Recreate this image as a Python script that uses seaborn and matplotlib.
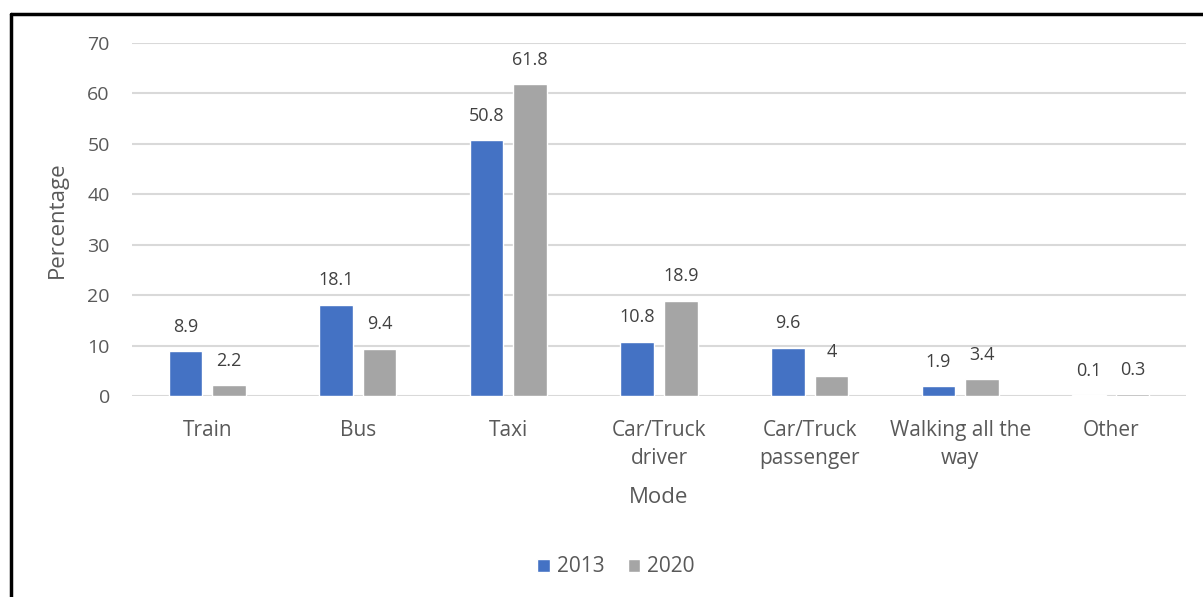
import matplotlib
matplotlib.use("Agg")
import matplotlib.pyplot as plt
from matplotlib.lines import Line2D
import seaborn as sns
import pandas as pd

modes = ["Train", "Bus", "Taxi", "Car/Truck\ndriver", "Car/Truck\npassenger",
         "Walking all the\nway", "Other"]
years = ["2013", "2020"]
pct_2013 = [8.9, 18.1, 50.8, 10.8, 9.6, 1.9, 0.1]
pct_2020 = [2.2, 9.4, 61.8, 18.9, 4, 3.4, 0.3]
label_2013 = ["8.9", "18.1", "50.8", "10.8", "9.6", "1.9", "0.1"]
label_2020 = ["2.2", "9.4", "61.8", "18.9", "4", "3.4", "0.3"]
y_ticks = [0, 10, 20, 30, 40, 50, 60, 70]

df = pd.DataFrame({
    "Mode": modes * 2,
    "Year": [years[0]] * len(modes) + [years[1]] * len(modes),
    "Percentage": pct_2013 + pct_2020,
})

sns.set_theme(style="white")
plt.rcParams["font.family"] = ["Open Sans", "DejaVu Sans"]
text_col = "#595959"

W, H = 1203, 597
fig = plt.figure(figsize=(W / 100, H / 100), dpi=100)
ax = fig.add_axes([132 / W, 1 - 396 / H, (1186 - 132) / W, (396 - 43) / H])

palette = {"2013": "#4472C4", "2020": "#A5A5A5"}
sns.barplot(data=df, x="Mode", y="Percentage", hue="Year", order=modes,
            hue_order=years, palette=palette, width=0.578, gap=0.23,
            saturation=1, ax=ax, legend=True, zorder=3)

labels = {"2013": label_2013, "2020": label_2020}
for cont, yr in zip(ax.containers, years):
    ax.bar_label(cont, labels=labels[yr], padding=11, fontsize=13, color="#404040")

ax.set_xlim(-0.5, len(modes) - 0.5)
ax.set_ylim(0, 70)
ax.set_yticks(y_ticks)
ax.yaxis.grid(True, color="#D9D9D9", linewidth=1.5, zorder=0)
ax.set_axisbelow(True)
for s in ax.spines.values():
    s.set_visible(False)
ax.tick_params(axis="both", length=0, labelcolor=text_col)
ax.tick_params(axis="y", pad=16, labelsize=14)
ax.tick_params(axis="x", pad=17, labelsize=15)
for t in ax.get_xticklabels():
    t.set_linespacing(1.45)
ax.set_xlabel("Mode", fontsize=16, color=text_col, labelpad=13)
ax.set_ylabel("Percentage", fontsize=16, color=text_col, labelpad=14)

leg = ax.legend(loc="center", bbox_to_anchor=(616 / W, 1 - 567 / H),
                bbox_transform=fig.transFigure, ncol=2, frameon=False,
                fontsize=15, handlelength=0.6, handleheight=0.6,
                handletextpad=0.35, columnspacing=1.1)
for t in leg.get_texts():
    t.set_color(text_col)

# outer frame (top and left edges)
fig.add_artist(Line2D([11 / W, 11 / W], [0, 1 - 14 / H], color="black",
                      linewidth=2.5, transform=fig.transFigure))
fig.add_artist(Line2D([11 / W, 1], [1 - 14 / H, 1 - 14 / H], color="black",
                      linewidth=2.5, transform=fig.transFigure))

fig.savefig("out.png", dpi=100)
